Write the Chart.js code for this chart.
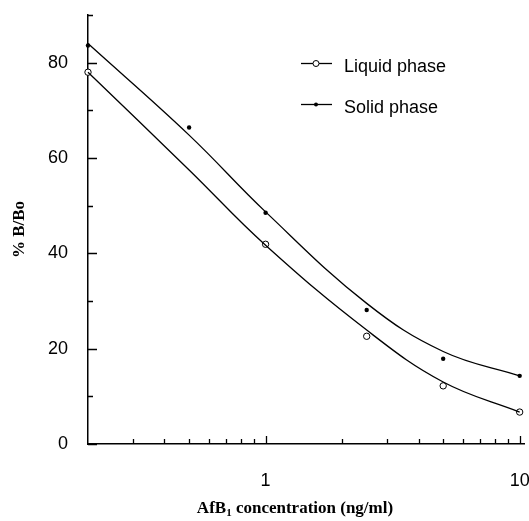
<!DOCTYPE html>
<html>
<head>
<meta charset="utf-8">
<script src="https://cdn.jsdelivr.net/npm/chart.js@4.4.0/dist/chart.umd.min.js"></script>
<style>
  html, body { margin: 0; padding: 0; background: #fff; }
  #wrap { width: 529px; height: 521px; }
</style>
</head>
<body>
<div id="wrap"><canvas id="chart"></canvas></div>
<script>
// measured points
const liquidConc = [0.2, 1, 2.5, 5, 10];
const liquidValues = [78, 41.9, 22.6, 12.2, 6.7];
const solidConc = [0.2, 0.5, 1, 2.5, 5, 10];
const solidValues = [83.6, 66.4, 48.5, 28.1, 17.9, 14.3];

// fitted curves
const curveConc = [0.2, 0.5, 1, 2.5, 5, 10];
const liquidCurve = [78, 57.5, 41.7, 23.9, 13, 6.7];
const solidCurve = [84, 64.8, 48.7, 29.5, 19.4, 14.3];

// axis ticks
const xLabelTicks = [1, 10];
const xMinorTicks = [0.3, 0.4, 0.5, 0.6, 0.7, 0.8, 0.9, 2, 3, 4, 5, 6, 7, 8, 9];
const yTicks = [0, 10, 20, 30, 40, 50, 60, 70, 80, 90];
const yLabelTicks = [0, 20, 40, 60, 80];

const seriesNames = ['Liquid phase', 'Solid phase'];

function toXY(xs, ys) {
  return xs.map((x, i) => ({ x: x, y: ys[i] }));
}

const sansFont = '"Liberation Sans", Arial, sans-serif';
const serifFont = '"Liberation Serif", "Times New Roman", serif';

// inward tick marks, axis titles and legend
const decorations = {
  id: 'decorations',
  afterDatasetsDraw(chart) {
    const ctx = chart.ctx;
    const xs = chart.scales.x, ys = chart.scales.y;
    const area = chart.chartArea;
    ctx.save();
    ctx.strokeStyle = '#000';
    ctx.lineWidth = 1.3;
    ctx.beginPath();
    yTicks.forEach(v => {
      const py = Math.round(ys.getPixelForValue(v)) + 0.5;
      const len = v % 20 === 0 ? 9 : 5;
      ctx.moveTo(area.left, py);
      ctx.lineTo(area.left + len, py);
    });
    xLabelTicks.forEach(v => {
      const px = Math.round(xs.getPixelForValue(v)) + 0.5;
      ctx.moveTo(px, area.bottom);
      ctx.lineTo(px, area.bottom - 8);
    });
    xMinorTicks.forEach(v => {
      const px = Math.round(xs.getPixelForValue(v)) + 0.5;
      ctx.moveTo(px, area.bottom);
      ctx.lineTo(px, area.bottom - 5);
    });
    ctx.stroke();

    // x title with subscript
    ctx.fillStyle = '#000';
    ctx.textBaseline = 'alphabetic';
    ctx.textAlign = 'left';
    const big = 'bold 17px ' + serifFont;
    const small = 'bold 11px ' + serifFont;
    const p1 = 'AfB', p2 = '1', p3 = ' concentration (ng/ml)';
    ctx.font = big;
    const w1 = ctx.measureText(p1).width, w3 = ctx.measureText(p3).width;
    ctx.font = small;
    const w2 = ctx.measureText(p2).width;
    const tx = 295 - (w1 + w2 + w3) / 2;
    const ty = 513;
    ctx.font = big;
    ctx.fillText(p1, tx, ty);
    ctx.font = small;
    ctx.fillText(p2, tx + w1, ty + 3);
    ctx.font = big;
    ctx.fillText(p3, tx + w1 + w2, ty);

    // y title
    ctx.save();
    ctx.translate(24, (area.top + area.bottom) / 2);
    ctx.rotate(-Math.PI / 2);
    ctx.textAlign = 'center';
    ctx.font = 'bold 17px ' + serifFont;
    ctx.fillText('% B/Bo', 0, 0);
    ctx.restore();

    // legend
    const rows = [63, 104];
    ctx.font = '18px ' + sansFont;
    ctx.textBaseline = 'middle';
    rows.forEach((ry, i) => {
      ctx.beginPath();
      ctx.moveTo(301, ry + 0.5);
      ctx.lineTo(332, ry + 0.5);
      ctx.lineWidth = 1.3;
      ctx.stroke();
      ctx.beginPath();
      if (i === 0) {
        ctx.arc(316, ry + 0.5, 3, 0, Math.PI * 2);
        ctx.fillStyle = '#fff';
        ctx.fill();
        ctx.lineWidth = 1;
        ctx.stroke();
      } else {
        ctx.arc(316, ry + 0.5, 2, 0, Math.PI * 2);
        ctx.fillStyle = '#000';
        ctx.fill();
      }
      ctx.fillStyle = '#000';
      ctx.fillText(seriesNames[i], 344, ry + 4);
    });
    ctx.restore();
  }
};

const ctx = document.getElementById('chart').getContext('2d');
new Chart(ctx, {
  type: 'scatter',
  data: {
    datasets: [
      {
        label: seriesNames[0] + ' fit',
        data: toXY(curveConc, liquidCurve),
        showLine: true,
        borderColor: '#000',
        borderWidth: 1.3,
        pointRadius: 0,
        tension: 0.4,
        clip: false
      },
      {
        label: seriesNames[1] + ' fit',
        data: toXY(curveConc, solidCurve),
        showLine: true,
        borderColor: '#000',
        borderWidth: 1.3,
        pointRadius: 0,
        tension: 0.4,
        clip: false
      },
      {
        label: seriesNames[0],
        data: toXY(liquidConc, liquidValues),
        showLine: false,
        pointRadius: 3.2,
        pointBackgroundColor: '#fff',
        pointBorderColor: '#000',
        pointBorderWidth: 1,
        clip: false
      },
      {
        label: seriesNames[1],
        data: toXY(solidConc, solidValues),
        showLine: false,
        pointRadius: 2.2,
        pointBackgroundColor: '#000',
        pointBorderColor: '#000',
        pointBorderWidth: 0,
        clip: false
      }
    ]
  },
  options: {
    responsive: true,
    maintainAspectRatio: false,
    animation: false,
    layout: { padding: { top: 15, right: 0, bottom: 0, left: 0 } },
    plugins: {
      legend: { display: false },
      tooltip: { enabled: false }
    },
    scales: {
      x: {
        type: 'logarithmic',
        min: 0.2,
        max: 10.4,
        afterBuildTicks: scale => { scale.ticks = xLabelTicks.map(v => ({ value: v })); },
        afterFit: scale => {
          scale.height = 77;
          scale.paddingLeft = 0;
          scale.paddingRight = 0;
        },
        grid: { display: false, drawTicks: false },
        border: { display: true, color: '#000', width: 1.5 },
        ticks: {
          color: '#000',
          font: { family: sansFont, size: 18 },
          padding: 26,
          maxRotation: 0,
          callback: v => String(v)
        }
      },
      y: {
        type: 'linear',
        min: 0,
        max: 90,
        afterBuildTicks: scale => { scale.ticks = yLabelTicks.map(v => ({ value: v })); },
        afterFit: scale => {
          scale.width = 88;
          scale.paddingTop = 0;
          scale.paddingBottom = 0;
        },
        grid: { display: false, drawTicks: false },
        border: { display: true, color: '#000', width: 1.5 },
        ticks: {
          color: '#000',
          font: { family: sansFont, size: 18 },
          padding: 20,
          callback: v => String(v)
        }
      }
    }
  },
  plugins: [decorations]
});
</script>
</body>
</html>
